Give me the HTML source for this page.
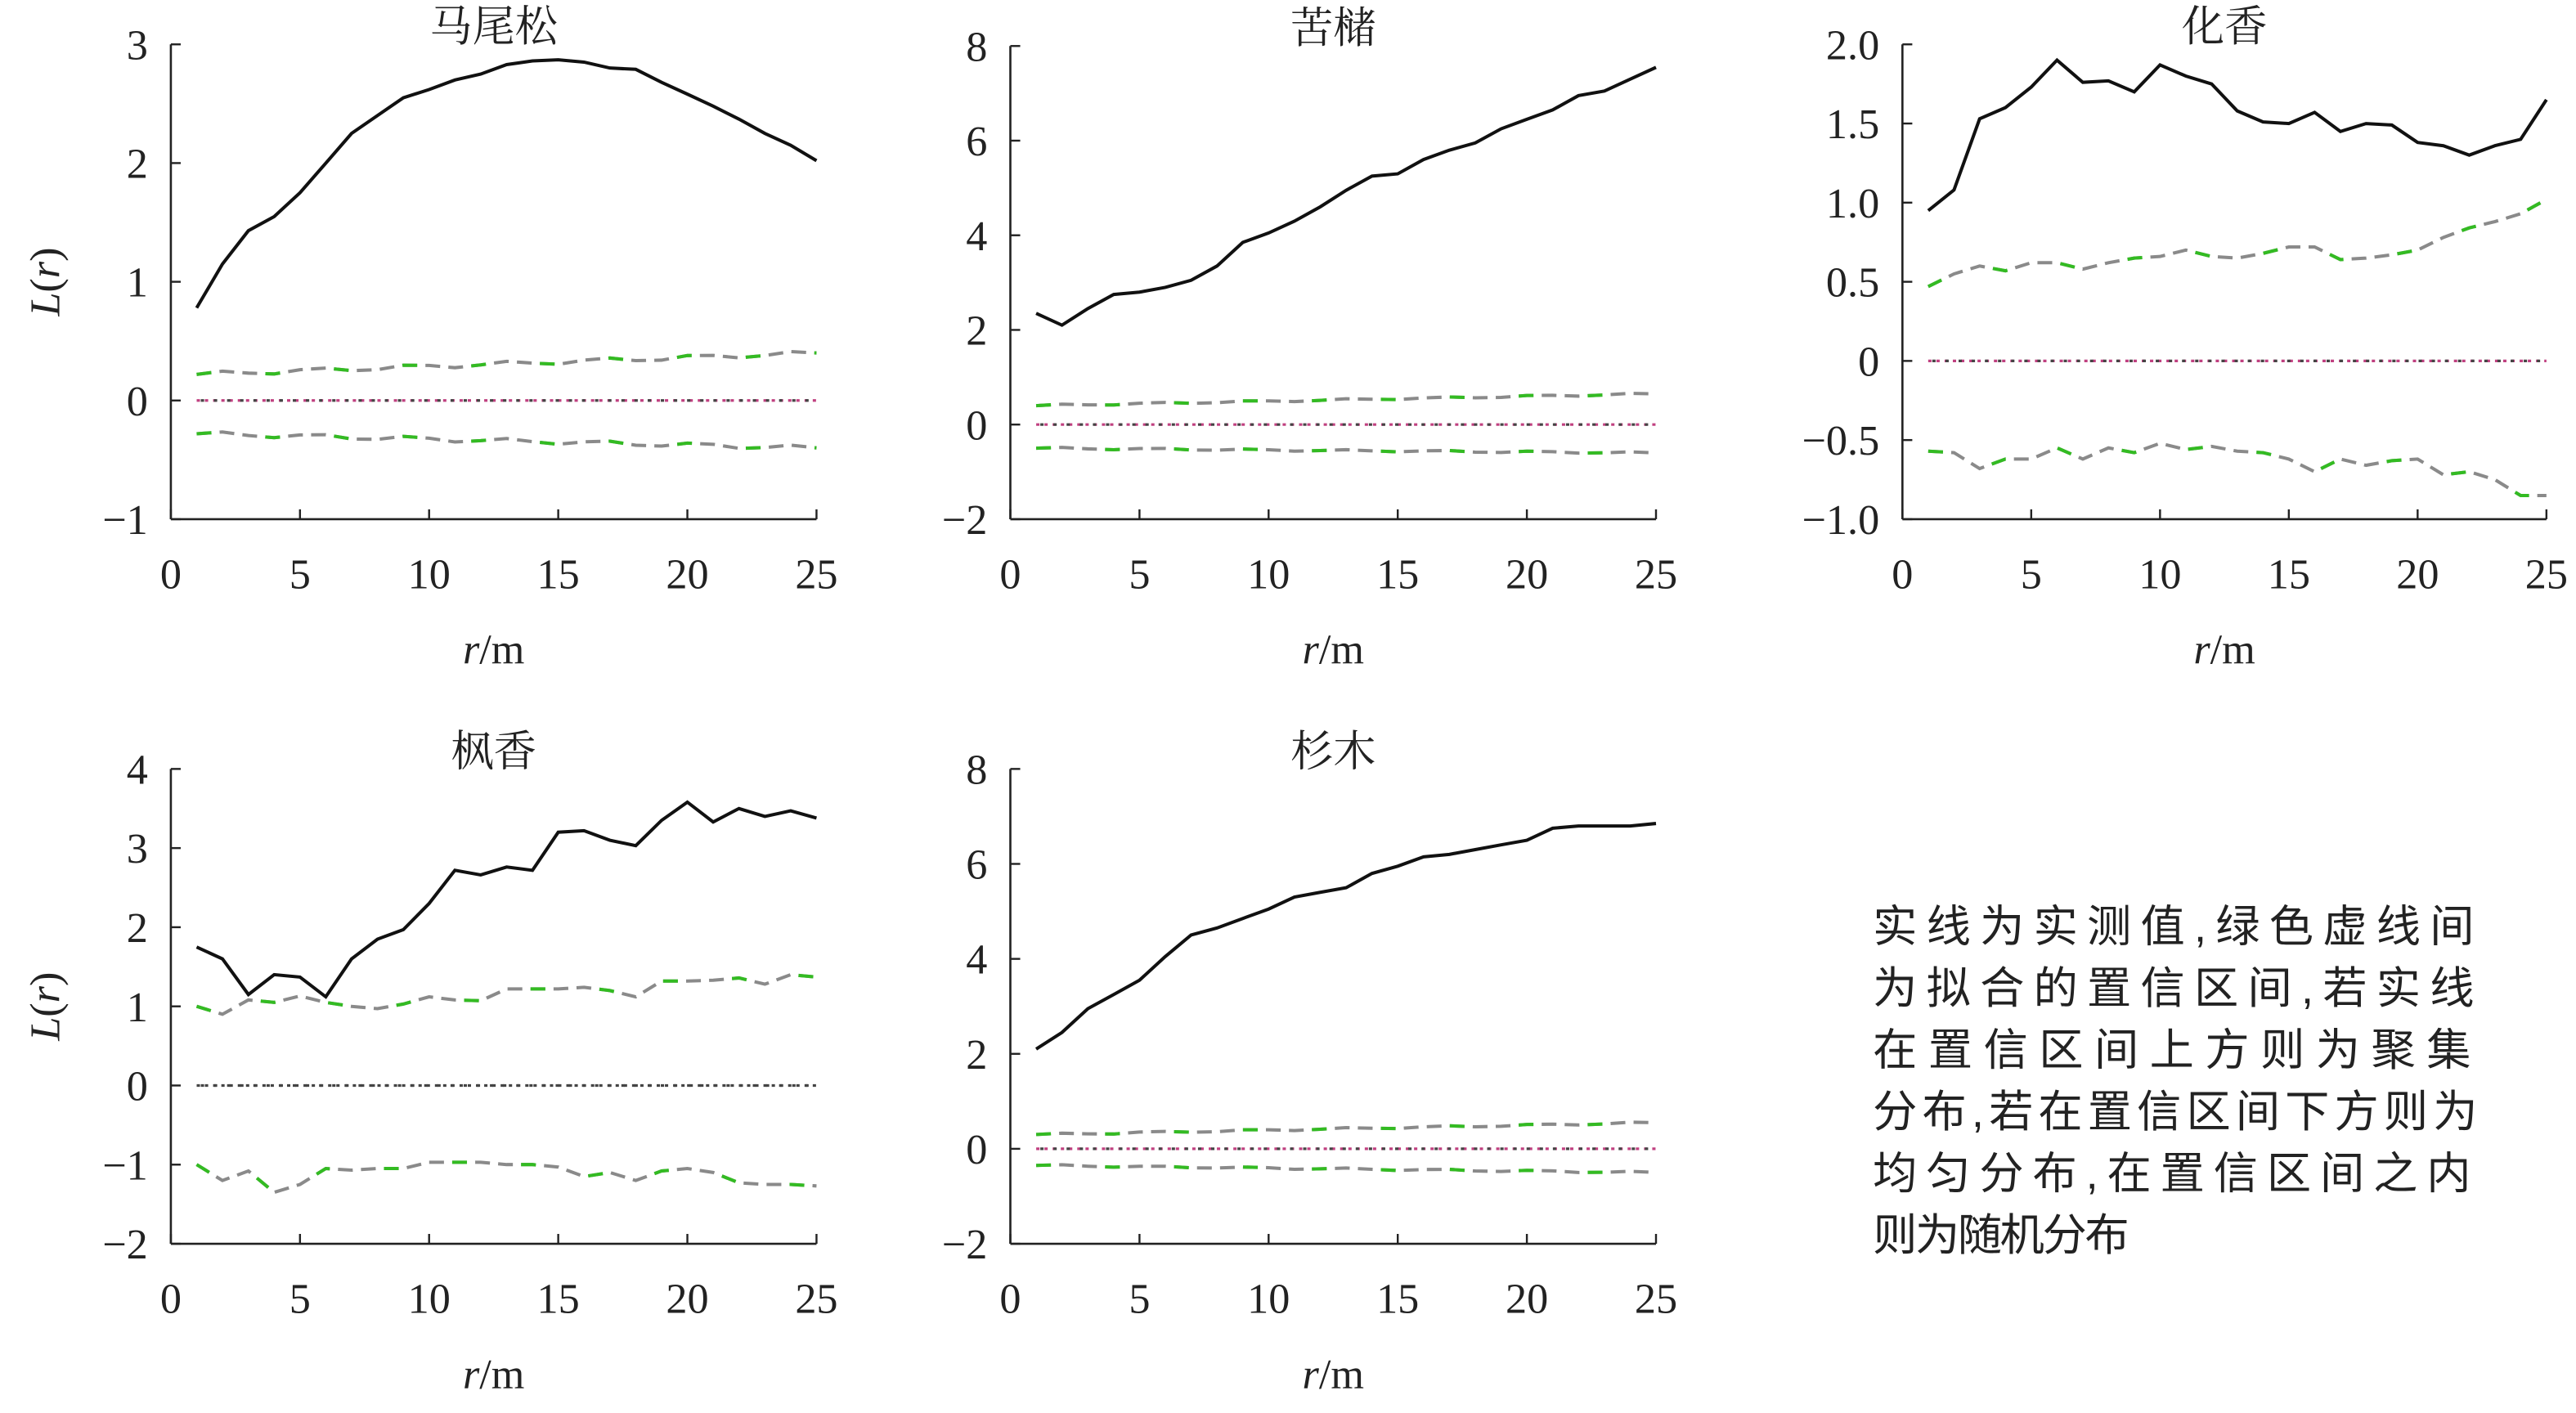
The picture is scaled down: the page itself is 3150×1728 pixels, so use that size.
<!DOCTYPE html>
<html><head><meta charset="utf-8">
<style>
html,body{margin:0;padding:0;background:#fff;}
svg{display:block;}
text{font-family:"Liberation Serif","Noto Serif CJK SC","Noto Sans CJK SC",serif;fill:#222;}
text.cn{font-family:"Liberation Sans","WenQuanYi Zen Hei","Noto Sans CJK SC",sans-serif;}
</style></head>
<body>
<svg id="s" width="3150" height="1728" viewBox="0 0 1568 860" preserveAspectRatio="none" xmlns="http://www.w3.org/2000/svg"></svg>
<script>
const NS="http://www.w3.org/2000/svg";const S=document.getElementById('s');
function el(t,a,txt){const e=document.createElementNS(NS,t);for(const k in a)e.setAttribute(k,a[k]);if(txt!==undefined)e.textContent=txt;S.appendChild(e);return e;}
function env(a,b){const r=[];for(let i=0;i<25;i++)r.push(a+(b-a)*i/24+0.02*Math.sin(i*1.7));return r;}
const P=[
{t:"马尾松",x0:104,x1:497,yT:27,yB:316,ymin:-1,ymax:3,ticks:[[3,"3"],[2,"2"],[1,"1"],[0,"0"],[-1,"−1"]],lab:true,
b:[0.78,1.15,1.43,1.55,1.75,2.0,2.25,2.4,2.55,2.62,2.7,2.75,2.83,2.86,2.87,2.85,2.8,2.79,2.68,2.58,2.48,2.37,2.25,2.15,2.02],u:env(0.22,0.4),l:env(-0.28,-0.4),zc:"#c04080"},
{t:"苦槠",x0:615,x1:1008,yT:28,yB:316,ymin:-2,ymax:8,ticks:[[8,"8"],[6,"6"],[4,"4"],[2,"2"],[0,"0"],[-2,"−2"]],
b:[2.35,2.1,2.45,2.75,2.8,2.9,3.05,3.35,3.85,4.05,4.3,4.6,4.95,5.25,5.3,5.6,5.8,5.95,6.25,6.45,6.65,6.95,7.05,7.3,7.55],u:env(0.4,0.65),l:env(-0.5,-0.6),zc:"#c04080"},
{t:"化香",x0:1158,x1:1550,yT:27,yB:316,ymin:-1,ymax:2,ticks:[[2,"2.0"],[1.5,"1.5"],[1,"1.0"],[0.5,"0.5"],[0,"0"],[-0.5,"−0.5"],[-1,"−1.0"]],
b:[0.95,1.08,1.53,1.6,1.73,1.9,1.76,1.77,1.7,1.87,1.8,1.75,1.58,1.51,1.5,1.57,1.45,1.5,1.49,1.38,1.36,1.3,1.36,1.4,1.65],
u:[0.47,0.55,0.6,0.57,0.62,0.62,0.58,0.62,0.65,0.66,0.7,0.66,0.65,0.68,0.72,0.72,0.64,0.65,0.67,0.7,0.78,0.84,0.88,0.93,1.02],
l:[-0.57,-0.58,-0.68,-0.62,-0.62,-0.55,-0.62,-0.55,-0.58,-0.52,-0.56,-0.54,-0.57,-0.58,-0.62,-0.7,-0.62,-0.66,-0.63,-0.62,-0.72,-0.7,-0.75,-0.85,-0.85],zc:"#c04080"},
{t:"枫香",x0:104,x1:497,yT:468,yB:757,ymin:-2,ymax:4,ticks:[[4,"4"],[3,"3"],[2,"2"],[1,"1"],[0,"0"],[-1,"−1"],[-2,"−2"]],lab:true,
b:[1.75,1.6,1.15,1.4,1.37,1.12,1.6,1.85,1.97,2.3,2.72,2.66,2.76,2.72,3.2,3.22,3.1,3.03,3.35,3.58,3.33,3.5,3.4,3.47,3.38],
u:[1.0,0.9,1.08,1.05,1.13,1.05,1.0,0.97,1.03,1.12,1.08,1.07,1.22,1.22,1.22,1.24,1.2,1.12,1.32,1.32,1.33,1.36,1.28,1.4,1.37],
l:[-1.0,-1.2,-1.08,-1.35,-1.25,-1.05,-1.07,-1.05,-1.05,-0.97,-0.97,-0.97,-1.0,-1.0,-1.03,-1.15,-1.1,-1.2,-1.08,-1.05,-1.1,-1.23,-1.25,-1.25,-1.27],zc:"#444"},
{t:"杉木",x0:615,x1:1008,yT:468,yB:757,ymin:-2,ymax:8,ticks:[[8,"8"],[6,"6"],[4,"4"],[2,"2"],[0,"0"],[-2,"−2"]],
b:[2.1,2.45,2.95,3.25,3.55,4.05,4.5,4.65,4.85,5.05,5.3,5.4,5.5,5.8,5.95,6.15,6.2,6.3,6.4,6.5,6.75,6.8,6.8,6.8,6.85],u:env(0.3,0.55),l:env(-0.35,-0.5),zc:"#c04080"}
];
for(const p of P){
 const X=r=>p.x0+(p.x1-p.x0)*r/25, Y=v=>p.yB-(p.yB-p.yT)*(v-p.ymin)/(p.ymax-p.ymin);
 el('line',{x1:p.x0,y1:p.yT,x2:p.x0,y2:p.yB,stroke:'#222','stroke-width':1.3});
 el('line',{x1:p.x0,y1:p.yB,x2:p.x1,y2:p.yB,stroke:'#222','stroke-width':1.3});
 for(const [v,s] of p.ticks){const y=Y(v);el('line',{x1:p.x0,y1:y,x2:p.x0+6,y2:y,stroke:'#222','stroke-width':1.2});
  el('text',{x:p.x0-14,y:y+9,'text-anchor':'end','font-size':26},s);}
 for(let r=0;r<=25;r+=5){const x=X(r);el('line',{x1:x,y1:p.yB,x2:x,y2:p.yB-6,stroke:'#222','stroke-width':1.2});
  el('text',{x:x,y:p.yB+42,'text-anchor':'middle','font-size':26},String(r));}
 const t=el('text',{x:(p.x0+p.x1)/2,y:p.yB+88,'text-anchor':'middle','font-size':26});
 t.innerHTML='<tspan font-style="italic">r</tspan>/m';
 el('text',{x:(p.x0+p.x1)/2,y:p.yT-2,'text-anchor':'middle','font-size':26},p.t);
 if(p.lab){const yc=(p.yT+p.yB)/2;const l=el('text',{x:0,y:0,'text-anchor':'middle','font-size':26,transform:`translate(36 ${yc}) rotate(-90)`});
  l.innerHTML='<tspan font-style="italic">L</tspan>(<tspan font-style="italic">r</tspan>)';}
 el('line',{x1:X(1),y1:Y(0),x2:X(25),y2:Y(0),stroke:p.zc,'stroke-width':1.6,'stroke-dasharray':'2 3'});
 el('line',{x1:X(1),y1:Y(0),x2:X(25),y2:Y(0),stroke:'#444','stroke-width':1.6,'stroke-dasharray':'2 6','stroke-dashoffset':-2.5});
 const pts=a=>a.map((v,i)=>X(i+1).toFixed(1)+','+Y(v).toFixed(1)).join(' ');
 for(const a of [p.u,p.l]){
  el('polyline',{points:pts(a),fill:'none',stroke:'#8a8a8a','stroke-width':2,'stroke-dasharray':'9 5'});
  el('polyline',{points:pts(a),fill:'none',stroke:'#33bb22','stroke-width':2,'stroke-dasharray':'9 33'});
 }
 el('polyline',{points:pts(p.b),fill:'none',stroke:'#111','stroke-width':2});
}
const lines=[["实线为实测值,绿色虚线间",366],["为拟合的置信区间,若实线",366],["在置信区间上方则为聚集",364],["分布,若在置信区间下方则为",368],["均匀分布,在置信区间之内",364],["则为随机分布",156]];
lines.forEach((s,i)=>el('text',{x:1140,y:573+i*37.6,'font-size':27,'class':'cn',textLength:s[1],lengthAdjust:'spacing'},s[0]));
</script>
</body></html>
